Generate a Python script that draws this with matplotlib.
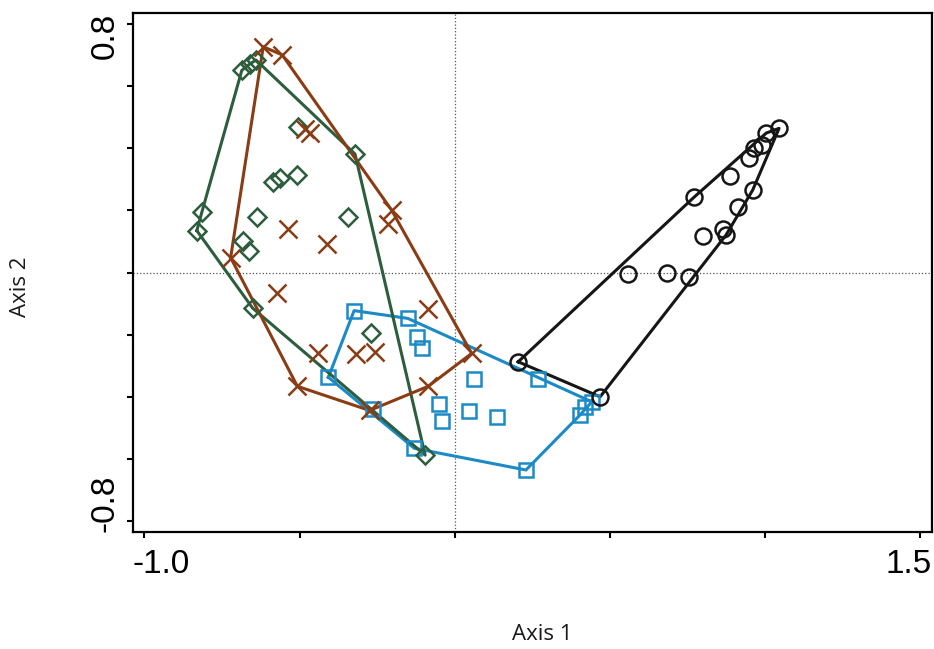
import matplotlib
matplotlib.use('Agg')
import matplotlib.pyplot as plt
import numpy as np

# ordination scores
circle_x = [0.205, 0.469, 1.046, 1.005, 0.990, 0.965, 0.950, 0.888, 0.772,
            0.961, 0.915, 0.864, 0.875, 0.802, 0.560, 0.686, 0.756]
circle_y = [-0.288, -0.401, 0.465, 0.450, 0.410, 0.401, 0.368, 0.312, 0.243,
            0.266, 0.210, 0.139, 0.121, 0.118, -0.005, -0.002, -0.016]

square_x = [-0.324, -0.151, -0.122, -0.106, -0.407, -0.264, -0.130, 0.230, 0.404,
            0.420, 0.442, 0.270, 0.064, -0.049, -0.040, 0.047, 0.136]
square_y = [-0.123, -0.148, -0.209, -0.245, -0.338, -0.441, -0.567, -0.637, -0.460,
            -0.435, -0.417, -0.344, -0.344, -0.424, -0.478, -0.447, -0.465]

diamond_x = [-0.686, -0.660, -0.640, -0.504, -0.321, -0.584, -0.563, -0.509, -0.815,
             -0.831, -0.638, -0.343, -0.683, -0.662, -0.651, -0.270, -0.095]
diamond_y = [0.652, 0.673, 0.685, 0.470, 0.382, 0.293, 0.304, 0.315, 0.194,
             0.135, 0.178, 0.178, 0.102, 0.070, -0.115, -0.196, -0.589]

cross_x = [-0.617, -0.556, -0.481, -0.466, -0.536, -0.412, -0.203, -0.214, -0.722,
           -0.573, -0.085, -0.439, -0.317, -0.257, -0.507, -0.274, -0.085, 0.055]
cross_y = [0.728, 0.702, 0.463, 0.450, 0.139, 0.093, 0.201, 0.155, 0.048,
           -0.065, -0.119, -0.261, -0.264, -0.255, -0.367, -0.445, -0.367, -0.261]

BLACK = '#161616'
BLUE = '#1b8ac6'
GREEN = '#2c5e3d'
BROWN = '#8a3c14'


def convex_hull(xs, ys):
    pts = sorted(set(zip(xs, ys)))

    def cross(o, a, b):
        return (a[0] - o[0]) * (b[1] - o[1]) - (a[1] - o[1]) * (b[0] - o[0])

    lower, upper = [], []
    for p in pts:
        while len(lower) >= 2 and cross(lower[-2], lower[-1], p) <= 0:
            lower.pop()
        lower.append(p)
    for p in reversed(pts):
        while len(upper) >= 2 and cross(upper[-2], upper[-1], p) <= 0:
            upper.pop()
        upper.append(p)
    hull = lower[:-1] + upper[:-1]
    hull.append(hull[0])
    hx, hy = zip(*hull)
    return np.array(hx), np.array(hy)


fig = plt.figure(figsize=(9.34, 6.49), dpi=100)
ax = fig.add_axes([133 / 934, 1 - 532 / 649, 799 / 934, 519 / 649])

ax.axhline(0, color='#555555', lw=0.9, ls=':', zorder=1)
ax.axvline(0, color='#555555', lw=0.9, ls=':', zorder=1)

groups = [
    (square_x, square_y, BLUE, 's', 10),
    (diamond_x, diamond_y, GREEN, 'D', 9.5),
    (cross_x, cross_y, BROWN, 'x', 13.5),
    (circle_x, circle_y, BLACK, 'o', 11.5),
]
for gx, gy, col, mk, ms in groups:
    hx, hy = convex_hull(gx, gy)
    ax.plot(hx, hy, color=col, lw=2.2, zorder=2)
    ax.plot(gx, gy, ls='none', marker=mk, ms=ms, mfc='none', mec=col, mew=1.8, zorder=3)

ax.set_xlim(-1.0368, 1.539)
ax.set_ylim(-0.837, 0.837)
ax.set_xticks(np.arange(-1.0, 1.51, 0.5))
ax.set_yticks(np.arange(-0.8, 0.81, 0.2))
ax.set_xticklabels([])
ax.set_yticklabels([])
ax.tick_params(direction='out', length=4.5, width=1.5, color='black')
for sp in ax.spines.values():
    sp.set_linewidth(1.6)
    sp.set_color('black')

tick_font = dict(family='Liberation Sans', size=24, color='black')
ax.annotate('-1.0', xy=(0, 0), xycoords='axes fraction', xytext=(0, -12),
            textcoords='offset points', ha='left', va='top', **tick_font)
ax.annotate('1.5', xy=(1, 0), xycoords='axes fraction', xytext=(0, -12),
            textcoords='offset points', ha='right', va='top', **tick_font)
ax.annotate('0.8', xy=(0, 1), xycoords='axes fraction', xytext=(-9, 0),
            textcoords='offset points', ha='right', va='top', rotation=90, **tick_font)
ax.annotate('-0.8', xy=(0, 0), xycoords='axes fraction', xytext=(-9, 0),
            textcoords='offset points', ha='right', va='bottom', rotation=90, **tick_font)

label_font = dict(family='Open Sans', size=16, color='#1a1a1a')
fig.text(542 / 934, 1 - 635 / 649, 'Axis 1', ha='center', va='center', **label_font)
fig.text(21 / 934, 1 - 287 / 649, 'Axis 2', ha='center', va='center', rotation=90, **label_font)

fig.savefig('out.png', dpi=100)
